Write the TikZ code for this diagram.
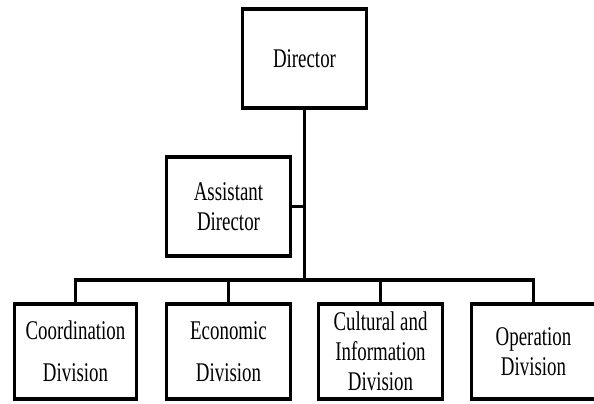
\documentclass[tikz,border=0pt]{standalone}
\usepackage{fontspec}
\setmainfont{Liberation Serif}
\begin{document}
\begin{tikzpicture}[x=1pt,y=-1pt,
  box/.style={draw, line width=3.8pt, minimum width=177.6pt, minimum height=99.2pt, inner sep=0pt, align=center, font=\fontsize{27}{30}\selectfont},
  lowbox/.style={box, minimum height=95.2pt},
  conn/.style={line width=3.8pt}]
\useasboundingbox (0,0) rectangle (594,404);
\begin{scope}[transform canvas={xscale=0.7}, x=1.4285714pt]
\node[box] (dir) at (304.5,58.5) {Director};
\node[box] (asst) at (228.5,206.5) {Assistant\\Director};
\node[lowbox, minimum width=174.8pt] (coord) at (75.5,351.5) {Coordination\\[12pt]Division};
\node[lowbox] (econ) at (228.5,351.5) {Economic\\[12pt]Division};
\node[lowbox] (cult) at (380.5,351.5) {Cultural and\\Information\\Division};
\node[lowbox] (oper) at (533.5,351.5) {Operation\\Division};
\coordinate (bar) at (305,280);
\draw[conn] (dir.south) -- (dir.south |- bar);
\draw[conn] (asst.east) -- (asst.east -| dir.south);
\draw[conn] (coord.north) |- (bar) -| (oper.north);
\draw[conn] (econ.north) -- (econ.north |- bar);
\draw[conn] (cult.north) -- (cult.north |- bar);
\end{scope}
\end{tikzpicture}
\end{document}
